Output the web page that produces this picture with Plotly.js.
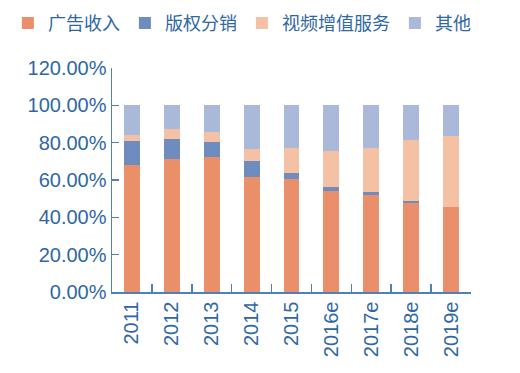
<!DOCTYPE html>
<html>
<head>
<meta charset="utf-8">
<script src="https://cdn.plot.ly/plotly-3.0.1.min.js"></script>
<style>
html,body{margin:0;padding:0;background:#fff;}
#chart{width:520px;height:373px;}
</style>
</head>
<body>
<div id="chart"></div>
<script>
var years = ['2011','2012','2013','2014','2015','2016e','2017e','2018e','2019e'];
var seriesNames = ['广告收入','版权分销','视频增值服务','其他'];
var adIncome   = [67.8, 71.5, 72.2, 61.4, 60.8, 53.9, 52.0, 47.7, 45.7];
var copyright  = [13.2, 10.7,  8.2,  8.9,  2.7,  2.5,  1.4,  1.2,  0.0];
var valueAdded = [ 3.3,  5.3,  5.2,  6.2, 13.7, 19.1, 23.8, 32.7, 37.9];
var others     = [15.7, 12.5, 14.4, 23.5, 22.8, 24.5, 22.8, 18.4, 16.4];
var yTickVals  = [0, 20, 40, 60, 80, 100, 120];
var yTickText  = ['0.00%','20.00%','40.00%','60.00%','80.00%','100.00%','120.00%'];

var colors = ['#E9906A', '#6F8CBF', '#F5C1A5', '#AAB8D9'];
var seriesData = [adIncome, copyright, valueAdded, others];

var traces = seriesData.map(function(vals, i){
  return {
    type: 'bar',
    name: seriesNames[i],
    x: years,
    y: vals,
    marker: {color: colors[i], line: {width: 0}},
    hoverinfo: 'x+y+name'
  };
});

var axisColor = '#4F80B8';
var textColor = '#2E67A3';
var fontFam = '"Liberation Sans", Arial, "Noto Sans CJK SC", sans-serif';

var layout = {
  width: 520,
  height: 373,
  barmode: 'stack',
  bargap: 0.6,
  paper_bgcolor: '#ffffff',
  plot_bgcolor: '#ffffff',
  margin: {l: 112, r: 49, t: 68, b: 81, pad: 0, autoexpand: false},
  font: {family: fontFam, color: textColor, size: 19},
  showlegend: true,
  legend: {
    orientation: 'h',
    x: -0.29,
    y: 1.2,
    xanchor: 'left',
    yanchor: 'middle',
    font: {family: '"Noto Sans CJK SC", sans-serif', size: 18, color: textColor},
    traceorder: 'normal',
    itemwidth: 30,
    bgcolor: 'rgba(0,0,0,0)'
  },
  xaxis: {
    type: 'category',
    tickson: 'boundaries',
    ticks: 'inside',
    ticklen: 8,
    tickwidth: 1.5,
    tickcolor: axisColor,
    showline: true,
    linecolor: axisColor,
    linewidth: 1.5,
    showgrid: false,
    zeroline: false,
    tickangle: -90,
    tickfont: {family: fontFam, size: 20, color: textColor},
    fixedrange: true
  },
  yaxis: {
    range: [0, 120],
    tickvals: yTickVals,
    ticktext: yTickText,
    ticks: 'inside',
    ticklen: 7,
    tickwidth: 1.5,
    tickcolor: axisColor,
    showline: true,
    linecolor: axisColor,
    linewidth: 1.5,
    showgrid: false,
    zeroline: false,
    tickfont: {family: fontFam, size: 20, color: textColor},
    fixedrange: true
  }
};

Plotly.newPlot('chart', traces, layout, {displayModeBar: false, staticPlot: true});
</script>
</body>
</html>
